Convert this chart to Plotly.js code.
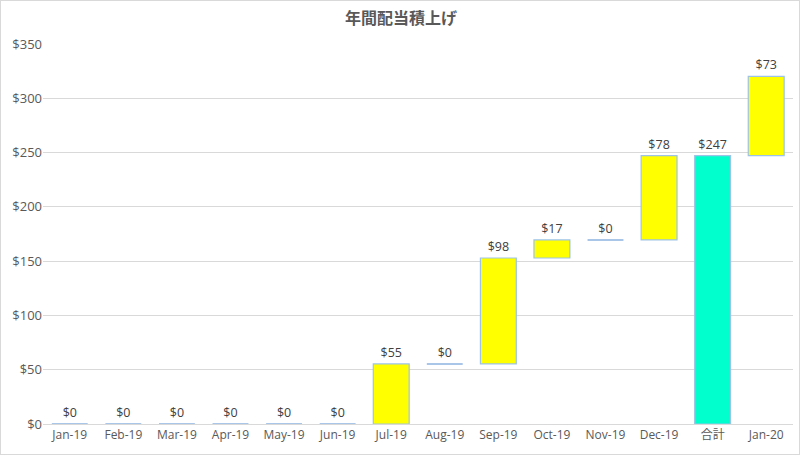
<!DOCTYPE html>
<html>
<head>
<meta charset="utf-8">
<script src="https://cdn.plot.ly/plotly-3.0.1.min.js"></script>
<style>
  html, body { margin: 0; padding: 0; background: #fff; }
  #chart { width: 800px; height: 455px; box-sizing: border-box; border: 1px solid #d9d9d9; }
</style>
</head>
<body>
<div id="chart"></div>
<script>
const months = ['Jan-19', 'Feb-19', 'Mar-19', 'Apr-19', 'May-19', 'Jun-19', 'Jul-19',
  'Aug-19', 'Sep-19', 'Oct-19', 'Nov-19', 'Dec-19', '合計', 'Jan-20'];
const amounts = [0, 0, 0, 0, 0, 0, 55.3, 0, 97.6, 16.6, 0, 77.6, 247, 73];
const measures = ['relative', 'relative', 'relative', 'relative', 'relative', 'relative', 'relative',
  'relative', 'relative', 'relative', 'relative', 'relative', 'total', 'relative'];
const yTicks = [0, 50, 100, 150, 200, 250, 300, 350];

const labels = amounts.map(v => '$' + Math.round(v));
const gap = 0.33;

// zero months are drawn by Excel as a flat outline at the running total,
// plotly skips zero-height bars so add those as short segments
const flatX = [];
const flatY = [];
let running = 0;
amounts.forEach((v, i) => {
  if (measures[i] === 'total') running = v;
  else running += v;
  if (v === 0) {
    flatX.push(i - (1 - gap) / 2, i + (1 - gap) / 2, null);
    flatY.push(running, running, null);
  }
});

const data = [
  {
    type: 'waterfall',
    x: months,
    y: amounts,
    measure: measures,
    text: labels,
    textposition: 'outside',
    textfont: { family: 'Open Sans, sans-serif', size: 12.5, color: '#404040' },
    cliponaxis: false,
    hoverinfo: 'x+text',
    connector: { visible: false },
    increasing: { marker: { color: '#FFFF00', line: { color: '#9DC3E6', width: 1.2 } } },
    decreasing: { marker: { color: '#FFFF00', line: { color: '#9DC3E6', width: 1.2 } } },
    totals: { marker: { color: '#00FFCC', line: { color: '#9DC3E6', width: 1.2 } } },
  },
  {
    type: 'scatter',
    mode: 'lines',
    x: flatX,
    y: flatY,
    xaxis: 'x2',
    line: { color: '#8DB3E2', width: 1.5 },
    hoverinfo: 'skip',
    cliponaxis: false,
  },
];

const layout = {
  width: 800,
  height: 455,
  paper_bgcolor: 'transparent',
  plot_bgcolor: 'transparent',
  margin: { l: 42, r: 8, t: 43, b: 32 },
  waterfallgap: gap,
  showlegend: false,
  title: {
    text: '<b>年間配当積上げ</b>',
    font: { family: 'Noto Sans CJK JP, sans-serif', size: 16, color: '#595959' },
    x: 0.5,
    xanchor: 'center',
    y: 0.962,
    yanchor: 'middle',
  },
  xaxis: {
    tickfont: { family: 'Open Sans, Noto Sans CJK JP, sans-serif', size: 12, color: '#595959' },
    showline: true,
    linecolor: '#d9d9d9',
    ticks: '',
    fixedrange: true,
  },
  xaxis2: {
    overlaying: 'x',
    range: [-0.5, months.length - 0.5],
    visible: false,
    fixedrange: true,
  },
  yaxis: {
    range: [0, 350],
    tickvals: yTicks,
    ticktext: yTicks.map(v => '$' + v),
    tickfont: { family: 'Open Sans, sans-serif', size: 13, color: '#595959' },
    gridcolor: '#d9d9d9',
    zeroline: false,
    ticks: '',
    fixedrange: true,
  },
};

Plotly.newPlot('chart', data, layout, { displayModeBar: false, staticPlot: true });
</script>
</body>
</html>
